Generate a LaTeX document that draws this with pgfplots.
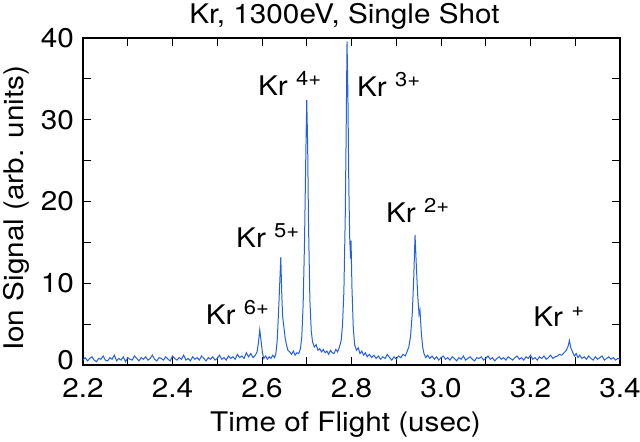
\documentclass[border=0pt]{standalone}
\usepackage{pgfplots}
\pgfplotsset{compat=1.18}
\usepackage{fontspec}
\setmainfont{TeX Gyre Heros}[FakeStretch=1.1]
\definecolor{sig}{RGB}{35,95,235}
\newcommand\sups[1]{\raisebox{10pt}{\fontsize{20}{24}\selectfont #1}}
\pgfplotstableread{
x y
2.200 0.6
2.205 0.9
2.210 0.5
2.215 0.8
2.220 1.0
2.225 0.6
2.230 0.4
2.235 0.8
2.240 0.7
2.245 1.1
2.250 0.6
2.255 0.5
2.260 0.9
2.265 0.7
2.270 1.2
2.275 0.5
2.280 0.8
2.285 0.6
2.290 1.0
2.295 0.4
2.300 0.9
2.305 0.7
2.310 0.6
2.315 1.1
2.320 0.8
2.325 0.5
2.330 0.9
2.335 0.7
2.340 1.0
2.345 0.6
2.350 0.8
2.355 1.2
2.360 0.7
2.365 0.5
2.370 0.9
2.375 0.8
2.380 0.6
2.385 1.0
2.390 0.7
2.395 0.5
2.400 1.1
2.405 0.8
2.410 0.6
2.415 0.9
2.420 0.7
2.425 1.2
2.430 0.6
2.435 0.8
2.440 0.5
2.445 1.0
2.450 0.7
2.455 0.9
2.460 0.6
2.465 1.1
2.470 0.8
2.475 0.5
2.480 0.9
2.485 0.7
2.490 1.0
2.495 0.6
2.500 0.8
2.505 1.2
2.510 0.7
2.515 0.9
2.520 0.6
2.525 1.1
2.530 0.8
2.535 1.0
2.540 0.7
2.545 1.3
2.550 0.9
2.555 1.1
2.560 0.8
2.565 1.5
2.570 1.0
2.575 1.4
2.580 0.9
2.585 1.2
2.589 1.6
2.592 2.7
2.595 4.3
2.598 2.9
2.601 1.5
2.604 0.8
2.608 1.1
2.612 0.7
2.616 1.0
2.620 0.8
2.624 1.2
2.628 0.9
2.631 1.4
2.634 3.0
2.637 6.5
2.640 10.5
2.642 13.2
2.644 9.0
2.646 6.0
2.649 4.6
2.652 3.2
2.655 2.4
2.658 1.8
2.662 1.6
2.666 1.3
2.670 1.7
2.674 1.2
2.678 1.5
2.682 1.4
2.686 2.0
2.689 3.5
2.692 7.5
2.695 15.0
2.698 26.0
2.700 32.4
2.702 27.0
2.704 17.0
2.707 8.0
2.710 4.2
2.713 2.8
2.717 2.2
2.721 2.5
2.725 1.8
2.729 2.0
2.733 1.6
2.737 1.9
2.741 1.5
2.745 1.7
2.749 1.3
2.753 1.8
2.757 1.5
2.761 1.4
2.765 1.9
2.769 1.6
2.773 2.2
2.777 3.0
2.780 5.0
2.783 9.0
2.786 18.0
2.788 28.0
2.790 39.6
2.792 33.0
2.794 22.0
2.796 15.5
2.798 13.0
2.799 15.2
2.801 9.5
2.804 4.5
2.807 2.5
2.811 1.8
2.815 2.1
2.819 1.4
2.823 1.7
2.827 1.2
2.831 1.5
2.835 1.0
2.840 1.3
2.845 0.9
2.850 1.2
2.855 0.8
2.860 1.1
2.865 0.7
2.870 1.0
2.875 0.8
2.880 1.3
2.885 0.9
2.890 0.6
2.895 1.0
2.900 0.7
2.905 1.1
2.910 0.9
2.915 1.3
2.920 1.1
2.924 1.6
2.928 2.2
2.932 3.5
2.936 6.5
2.939 10.5
2.942 15.9
2.945 12.0
2.948 8.5
2.951 6.2
2.953 6.7
2.956 4.0
2.959 2.2
2.962 1.4
2.966 0.9
2.970 1.2
2.975 0.8
2.980 1.1
2.985 0.7
2.990 1.0
2.995 0.6
3.000 0.9
3.005 1.1
3.010 0.7
3.015 0.9
3.020 0.6
3.025 1.0
3.030 0.8
3.035 0.5
3.040 0.9
3.045 0.7
3.050 1.1
3.055 0.6
3.060 0.8
3.065 1.0
3.070 0.7
3.075 0.5
3.080 0.9
3.085 0.8
3.090 1.0
3.095 0.6
3.100 0.8
3.105 1.1
3.110 0.7
3.115 0.9
3.120 0.5
3.125 0.8
3.130 1.0
3.135 0.7
3.140 0.9
3.145 0.6
3.150 1.0
3.155 0.8
3.160 0.6
3.165 0.9
3.170 1.1
3.175 0.7
3.180 0.9
3.185 0.6
3.190 1.0
3.195 0.8
3.200 1.2
3.205 0.7
3.210 0.9
3.215 0.6
3.220 1.0
3.225 0.8
3.230 1.1
3.235 0.7
3.240 0.9
3.245 1.2
3.250 0.8
3.255 1.0
3.260 1.1
3.265 1.3
3.270 1.2
3.275 1.5
3.280 1.8
3.284 2.3
3.287 3.0
3.290 2.1
3.294 1.6
3.298 1.1
3.302 1.4
3.306 0.9
3.310 1.2
3.315 0.8
3.320 1.0
3.325 0.7
3.330 1.1
3.335 0.8
3.340 0.6
3.345 1.0
3.350 0.7
3.355 0.9
3.360 1.1
3.365 0.6
3.370 0.8
3.375 1.0
3.380 0.7
3.385 0.9
3.390 0.6
3.395 0.8
3.400 0.7
}\sigtable
\begin{document}
\fontsize{27}{32}\selectfont
\begin{tikzpicture}
\begin{axis}[
  scale only axis,
  width=537pt, height=327pt,
  xmin=2.2, xmax=3.4, ymin=0, ymax=40,
  xtick={2.2,2.4,2.6,2.8,3.0,3.2,3.4},
  minor xtick={2.3,2.5,2.7,2.9,3.1,3.3},
  ytick={0,10,20,30,40},
  yticklabels={\raisebox{10pt}{0},10,20,30,40},
  minor ytick={5,15,25,35},
  tick align=inside,
  major tick length=8pt, minor tick length=8pt,
  tick style={black, line width=1pt},
  axis line style={line width=1.4pt},
  /pgf/number format/assume math mode=true,
  xticklabel style={yshift=-4pt, /pgf/number format/.cd, fixed, fixed zerofill, precision=1},
  title={Kr, 1300eV, Single Shot},
  title style={at={(axis description cs:0.5,1)}, anchor=base, yshift=8pt, xshift=-7pt},
  xlabel={Time of Flight (usec)},
  xlabel style={at={(axis description cs:0.5,0)}, anchor=base, yshift=-67pt, xshift=-6pt},
  ylabel={Ion Signal (arb. units)},
  ylabel style={at={(axis description cs:-0.1117,0.479)}, anchor=base, rotate=0},
]
\addplot[color=sig, line width=1pt, no markers] table[x=x,y=y] {\sigtable};
\node[anchor=base west, inner sep=0pt] at (axis cs:2.474,4.9) {Kr \sups{6+}};
\node[anchor=base west, inner sep=0pt] at (axis cs:2.542,14.4) {Kr \sups{5+}};
\node[anchor=base west, inner sep=0pt] at (axis cs:2.591,33.0) {Kr \sups{4+}};
\node[anchor=base west, inner sep=0pt] at (axis cs:2.812,32.8) {Kr \sups{3+}};
\node[anchor=base west, inner sep=0pt] at (axis cs:2.877,17.4) {Kr \sups{2+}};
\node[anchor=base west, inner sep=0pt] at (axis cs:3.206,4.65) {Kr \sups{+}};
\end{axis}
\pgfresetboundingbox
\path ([xshift=-83pt,yshift=-77pt]current axis.south west) rectangle ([xshift=20pt,yshift=38pt]current axis.north east);
\end{tikzpicture}
\end{document}
